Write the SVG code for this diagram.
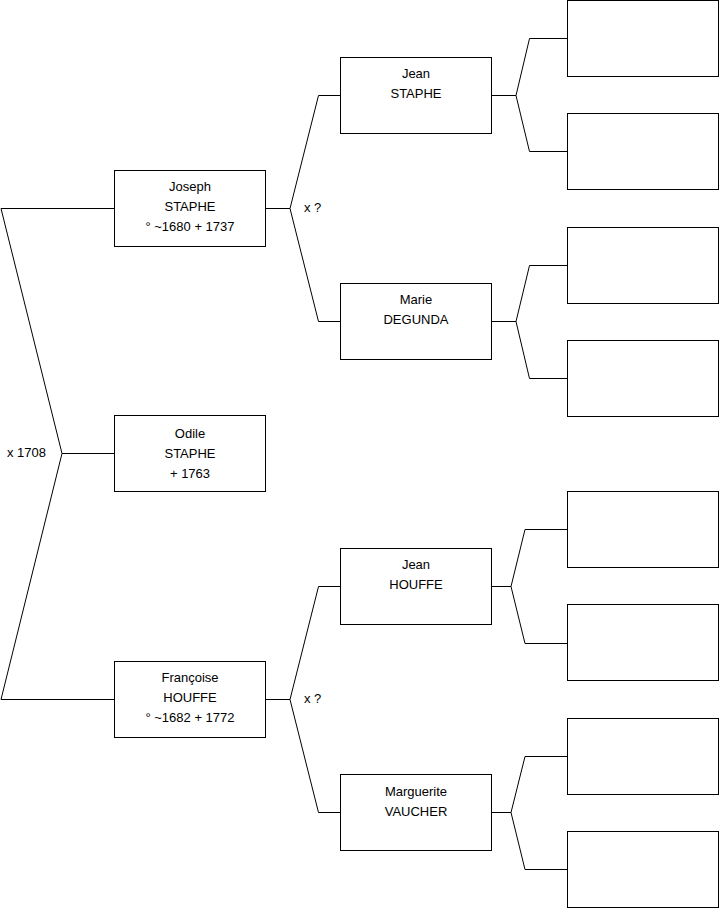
<svg xmlns="http://www.w3.org/2000/svg" width="719" height="908" viewBox="0 0 719 908">
<style>
.box{fill:#fff;stroke:#000;stroke-width:1}
.ln{fill:none;stroke:#000;stroke-width:1}
text{font-family:"Liberation Sans",Arial,sans-serif;font-size:13px;fill:#000}
.c{text-anchor:middle}
</style>
<rect width="719" height="908" fill="#fff"/>
<g id="connectors">
<path class="ln" d="M1,208.5 H114.5 M1,208.5 L62,453.5 L1,699.5 H114.5 M62,453.5 H114.5"/>
<path class="ln" d="M265.5,208.5 H290 M318.5,95.5 L290,208.5 L318.5,321.5 M318.5,95.5 H340.5 M318.5,321.5 H340.5"/>
<path class="ln" d="M265.5,699.5 H290 M318.5,586.5 L290,699.5 L318.5,812.5 M318.5,586.5 H340.5 M318.5,812.5 H340.5"/>
<path class="ln" d="M491.5,95.5 H516 L529.5,38.5 H567.5 M516,95.5 L529.5,151.5 H567.5"/>
<path class="ln" d="M491.5,321.5 H516 L529.5,265.5 H567.5 M516,321.5 L529.5,378.5 H567.5"/>
<path class="ln" d="M491.5,586.5 H511 L525,529.5 H567.5 M511,586.5 L525,643.5 H567.5"/>
<path class="ln" d="M491.5,812.5 H511 L525,756.5 H567.5 M511,812.5 L525,869.5 H567.5"/>
</g>
<g id="label-marriage1"><text x="7" y="457">x 1708</text></g>
<g id="label-marriage2"><text x="304" y="212">x ?</text></g>
<g id="label-marriage3"><text x="304" y="703">x ?</text></g>
<g id="joseph"><rect class="box" x="114.5" y="170.5" width="151" height="76"/>
<text class="c" x="190" y="191">Joseph</text><text class="c" x="190" y="211">STAPHE</text><text class="c" x="190" y="231">° ~1680 + 1737</text></g>
<g id="odile"><rect class="box" x="114.5" y="415.5" width="151" height="76"/>
<text class="c" x="190" y="438">Odile</text><text class="c" x="190" y="458">STAPHE</text><text class="c" x="190" y="478"> + 1763</text></g>
<g id="francoise"><rect class="box" x="114.5" y="661.5" width="151" height="76"/>
<text class="c" x="190" y="682">Françoise</text><text class="c" x="190" y="702">HOUFFE</text><text class="c" x="190" y="722">° ~1682 + 1772</text></g>
<g id="jean-staphe"><rect class="box" x="340.5" y="57.5" width="151" height="76"/>
<text class="c" x="416" y="78">Jean</text><text class="c" x="416" y="98">STAPHE</text></g>
<g id="marie-degunda"><rect class="box" x="340.5" y="283.5" width="151" height="76"/>
<text class="c" x="416" y="304">Marie</text><text class="c" x="416" y="324">DEGUNDA</text></g>
<g id="jean-houffe"><rect class="box" x="340.5" y="548.5" width="151" height="76"/>
<text class="c" x="416" y="569">Jean</text><text class="c" x="416" y="589">HOUFFE</text></g>
<g id="marguerite-vaucher"><rect class="box" x="340.5" y="774.5" width="151" height="76"/>
<text class="c" x="416" y="796">Marguerite</text><text class="c" x="416" y="816">VAUCHER</text></g>
<g id="p1"><rect class="box" x="567.5" y="0.5" width="151" height="76"/></g>
<g id="p2"><rect class="box" x="567.5" y="113.5" width="151" height="76"/></g>
<g id="p3"><rect class="box" x="567.5" y="227.5" width="151" height="76"/></g>
<g id="p4"><rect class="box" x="567.5" y="340.5" width="151" height="76"/></g>
<g id="p5"><rect class="box" x="567.5" y="491.5" width="151" height="76"/></g>
<g id="p6"><rect class="box" x="567.5" y="604.5" width="151" height="76"/></g>
<g id="p7"><rect class="box" x="567.5" y="718.5" width="151" height="76"/></g>
<g id="p8"><rect class="box" x="567.5" y="831.5" width="151" height="76"/></g>
</svg>
